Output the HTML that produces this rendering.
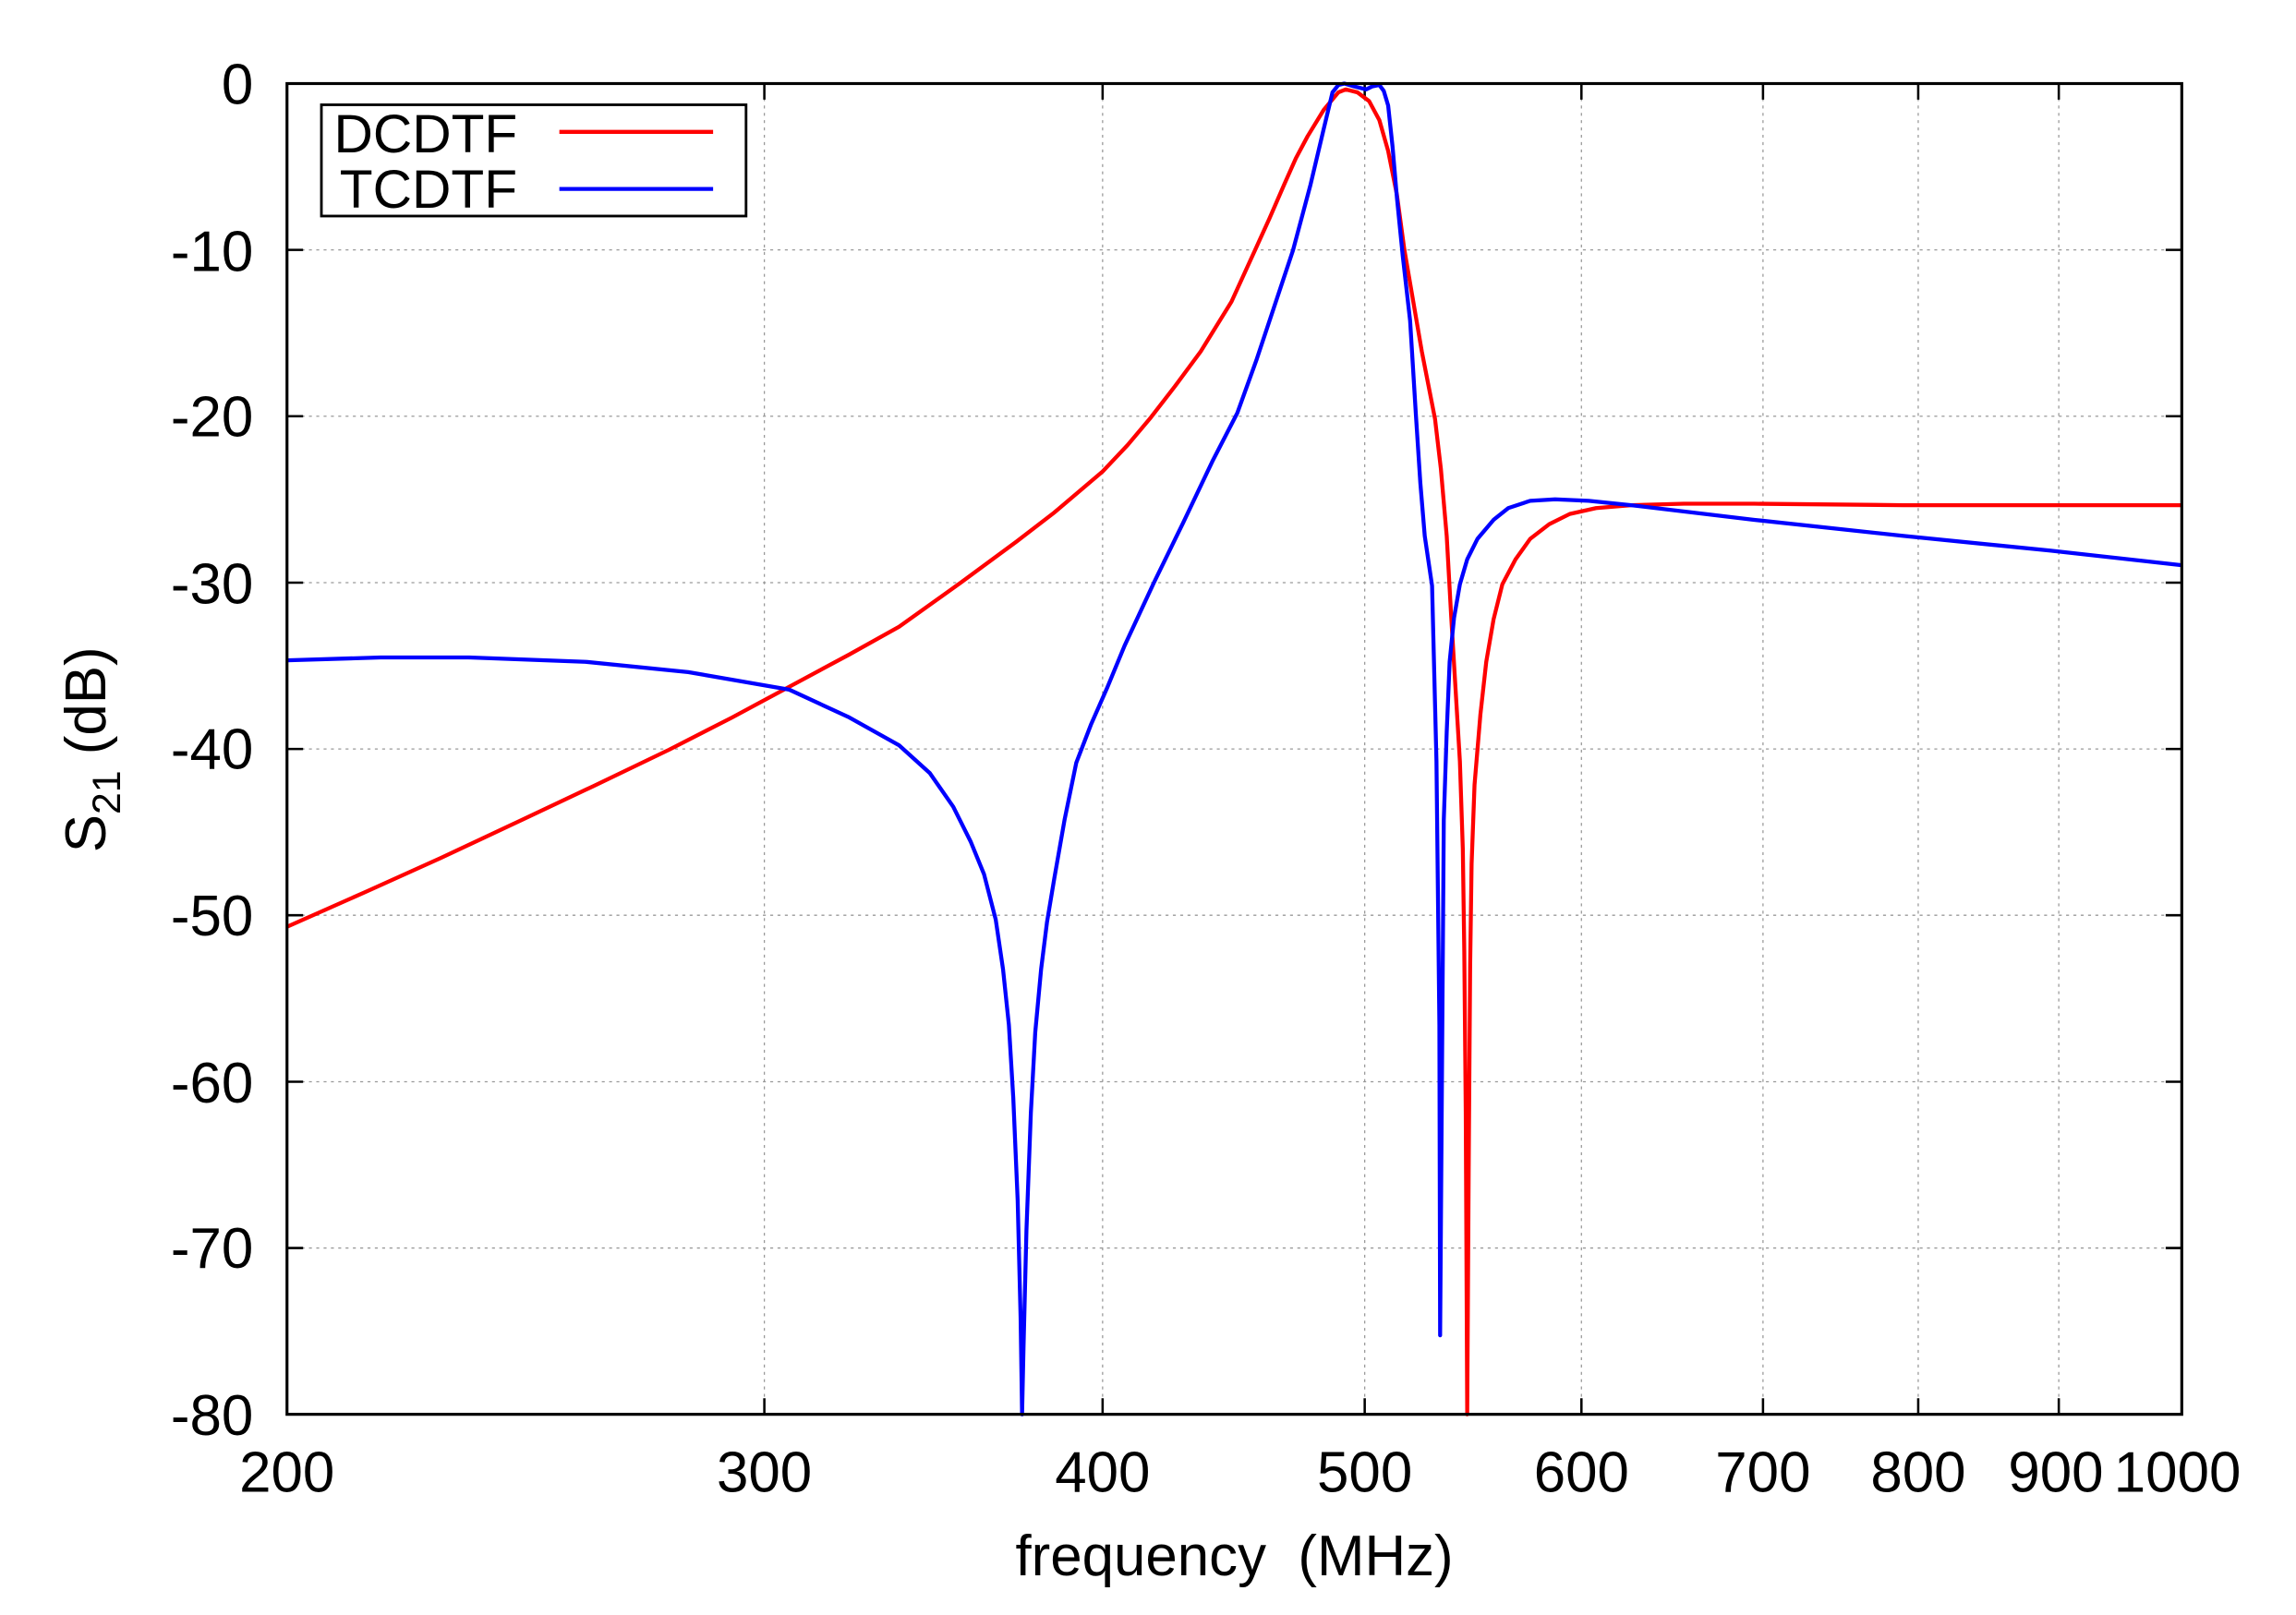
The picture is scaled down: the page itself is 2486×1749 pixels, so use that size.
<!DOCTYPE html>
<html><head><meta charset="utf-8"><style>html,body{margin:0;padding:0;background:#fff}svg{display:block}</style></head>
<body>
<svg width="2486" height="1749" viewBox="0 0 1568 1103" xmlns="http://www.w3.org/2000/svg" font-family="Liberation Sans, sans-serif">
<rect width="1568" height="1103" fill="#fff"/>
<g stroke="#999" stroke-width="0.8" stroke-dasharray="2,3">
<line x1="196" y1="170.6" x2="1490" y2="170.6"/><line x1="196" y1="284.2" x2="1490" y2="284.2"/>
<line x1="196" y1="397.9" x2="1490" y2="397.9"/><line x1="196" y1="511.5" x2="1490" y2="511.5"/>
<line x1="196" y1="625.1" x2="1490" y2="625.1"/><line x1="196" y1="738.8" x2="1490" y2="738.8"/>
<line x1="196" y1="852.4" x2="1490" y2="852.4"/>
<line x1="522" y1="57" x2="522" y2="966"/><line x1="753" y1="57" x2="753" y2="966"/>
<line x1="932" y1="57" x2="932" y2="966"/><line x1="1080" y1="57" x2="1080" y2="966"/>
<line x1="1204" y1="57" x2="1204" y2="966"/><line x1="1310" y1="57" x2="1310" y2="966"/>
<line x1="1406" y1="57" x2="1406" y2="966"/>
</g>
<g stroke="#000" stroke-width="1.6">
<path d="M196,170.6h11M196,284.2h11M196,397.9h11M196,511.5h11M196,625.1h11M196,738.8h11M196,852.4h11
M1490,170.6h-11M1490,284.2h-11M1490,397.9h-11M1490,511.5h-11M1490,625.1h-11M1490,738.8h-11M1490,852.4h-11
M522,966v-11M753,966v-11M932,966v-11M1080,966v-11M1204,966v-11M1310,966v-11M1406,966v-11
M522,57v11M753,57v11M932,57v11M1080,57v11M1204,57v11M1310,57v11M1406,57v11"/>
</g>
<g font-size="39" text-anchor="end" fill="#000">
<text x="173" y="71">0</text><text x="173" y="185">-10</text><text x="173" y="298">-20</text>
<text x="173" y="412">-30</text><text x="173" y="525">-40</text><text x="173" y="639">-50</text>
<text x="173" y="753">-60</text><text x="173" y="866">-70</text><text x="173" y="980">-80</text>
</g>
<g font-size="39" text-anchor="middle" fill="#000">
<text x="196" y="1019">200</text><text x="522" y="1019">300</text><text x="753" y="1019">400</text>
<text x="932" y="1019">500</text><text x="1080" y="1019">600</text><text x="1204" y="1019">700</text>
<text x="1310" y="1019">800</text><text x="1404" y="1019">900</text><text x="1487" y="1019">1000</text>
<text x="843" y="1076" xml:space="preserve">frequency  (MHz)</text>
</g>
<text transform="translate(72,512) rotate(-90)" font-size="39" text-anchor="middle">S<tspan font-size="27" dy="10">21</tspan><tspan dy="-10"> (dB)</tspan></text>
<polyline fill="none" stroke="#f00" stroke-width="2.7" stroke-linejoin="round" points="196,633 250,609 301,586 350,563 405,537 457,512 500,490 539,469 580,447 614,428 656,398 694,370 720,350 753,322 770,304 786,285 803,263 820,240 841,206 857,171 867,149 877,126 885,108 893,93 904,75 914,63 919,61 927,63 935,69 942,82 948,103 954,133 959,170 965,205 971,240 980,286 984,320 988,366 991,420 994,470 997,520 999,580 1000,650 1001,760 1002,966 1003,800 1004,660 1005,590 1007,536 1011,488 1015,452 1020,423 1026,399 1035,382 1045,368 1058,358 1072,351 1090,347 1114,345 1150,344 1198,344 1300,345 1490,345"/>
<polyline fill="none" stroke="#00f" stroke-width="2.7" stroke-linejoin="round" points="196,451 260,449 320,449 400,452 470,459 539,471 580,490 614,509 635,528 651,551 663,575 672,597 680,628 685,662 689,700 692,750 695,820 697,900 698,966 699,920 701,840 704,760 707,705 711,662 715,630 720,600 727,560 735,521 745,495 756,470 768,441 788,398 808,357 828,315 845,282 858,246 870,210 883,171 895,126 904,88 910,63 914,58 918,57 925,59 933,61 937,59 942,58 945,62 948,72 951,100 954,135 958,175 963,219 967,284 970,330 973,366 978,400 981,520 983,700 983.5,912 985,700 986,560 988,500 990,452 993,422 997,399 1002,382 1009,368 1020,355 1030,347 1045,342 1062,341 1085,342 1114,345 1198,355 1300,366 1400,376 1490,386"/>
<rect x="196" y="57" width="1294" height="909" fill="none" stroke="#000" stroke-width="2"/>
<rect x="219.5" y="71.5" width="290" height="76" fill="#fff" stroke="#000" stroke-width="1.8"/>
<text x="228" y="104" font-size="37">DCDTF</text>
<text x="232" y="142" font-size="37">TCDTF</text>
<line x1="382" y1="90" x2="487" y2="90" stroke="#f00" stroke-width="2.7"/>
<line x1="382" y1="129" x2="487" y2="129" stroke="#00f" stroke-width="2.7"/>
</svg>
</body></html>
